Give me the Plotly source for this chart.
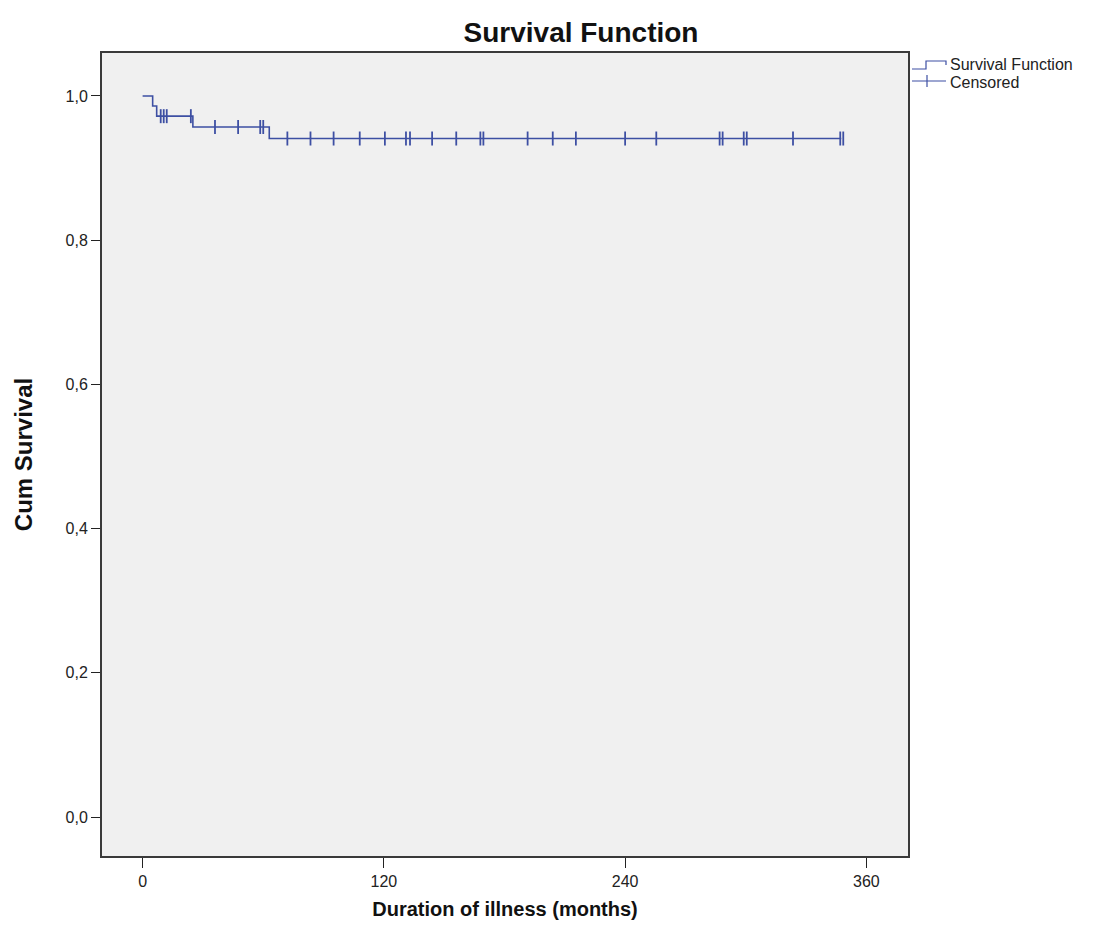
import plotly.graph_objects as go

# Kaplan-Meier step curve (time in months, cumulative survival)
step_times = [0, 5, 7, 25, 63, 347.5]
step_surv = [1.0, 0.986, 0.972, 0.957, 0.941, 0.941]

# Censored observations (time in months) and survival level at that time
censor_times = [9, 10.5, 12, 24, 36, 47.5, 58.5, 60, 72, 83.5, 95, 108, 120.5,
                131, 133, 144, 156, 168, 169.5, 191.5, 204, 215.5, 240, 255.5,
                287, 288.5, 299, 300.5, 323.5, 347, 348.5]
censor_surv = [0.972, 0.972, 0.972, 0.972, 0.957, 0.957, 0.957, 0.957, 0.941, 0.941,
               0.941, 0.941, 0.941, 0.941, 0.941, 0.941, 0.941, 0.941, 0.941, 0.941,
               0.941, 0.941, 0.941, 0.941, 0.941, 0.941, 0.941, 0.941, 0.941, 0.941, 0.941]

x_ticks = [0, 120, 240, 360]
y_ticks = [0.0, 0.2, 0.4, 0.6, 0.8, 1.0]

BLUE = "#3D4FA3"
FONT = "Liberation Sans, Arial, sans-serif"

# plot area in screen pixels (page has an 8px body margin)
PL, PR, PT, PB = 102, 908, 53, 856


def px(x):
    return (x - PL) / (PR - PL)


def py(y):
    return 1 - (y - PT) / (PB - PT)


fig = go.Figure()
fig.add_trace(go.Scatter(
    x=step_times, y=step_surv, mode="lines", line_shape="hv",
    line=dict(color=BLUE, width=1.6), name="Survival Function", showlegend=False,
))
fig.add_trace(go.Scatter(
    x=censor_times, y=censor_surv, mode="markers",
    marker=dict(symbol="line-ns", size=10, line=dict(color=BLUE, width=1.8)),
    name="Censored", showlegend=False,
))

# Manual legend (step icon and cross icon)
fig.add_shape(type="path", xref="paper", yref="paper",
              path=(f"M {px(912)} {py(69)} L {px(926)} {py(69)} L {px(926)} {py(61)} "
                    f"L {px(946)} {py(61)} L {px(946)} {py(65)}"),
              line=dict(color=BLUE, width=1.2))
fig.add_shape(type="line", xref="paper", yref="paper",
              x0=px(912), x1=px(946), y0=py(81), y1=py(81), line=dict(color=BLUE, width=1.2))
fig.add_shape(type="line", xref="paper", yref="paper",
              x0=px(927), x1=px(927), y0=py(75), y1=py(87), line=dict(color=BLUE, width=1.2))
fig.add_annotation(text="Survival Function", xref="paper", yref="paper",
                   x=px(948), y=py(64), xanchor="left", yanchor="middle",
                   showarrow=False, font=dict(family=FONT, size=16, color="#222"))
fig.add_annotation(text="Censored", xref="paper", yref="paper",
                   x=px(948), y=py(82), xanchor="left", yanchor="middle",
                   showarrow=False, font=dict(family=FONT, size=16, color="#222"))

fig.update_layout(
    width=1120, height=945,
    margin=dict(l=PL - 8, r=1120 - (PR - 8), t=PT - 8, b=945 - (PB - 8)),
    paper_bgcolor="white", plot_bgcolor="#F0F0F0",
    separators=",.",
    font=dict(family=FONT, size=17, color="#222"),
    title=dict(text="<b>Survival Function</b>", x=(581 - 8) / 1120, xanchor="center",
               y=1 - (32 - 8) / 945, yanchor="middle", font=dict(family=FONT, size=28, color="#111")),
    showlegend=False,
)
fig.update_xaxes(
    range=[-20.2, 380.7], tickvals=x_ticks, ticktext=[str(v) for v in x_ticks],
    showgrid=False, zeroline=False, showline=True, mirror=True,
    linecolor="#3a3a3a", linewidth=2, ticks="outside", ticklen=10, tickcolor="#222",
    tickfont=dict(size=16),
    title=dict(text="<b>Duration of illness (months)</b>", standoff=13,
               font=dict(family=FONT, size=20, color="#111")),
)
fig.update_yaxes(
    range=[-0.054, 1.0596], tickvals=y_ticks, tickformat=".1f",
    showgrid=False, zeroline=False, showline=True, mirror=True,
    linecolor="#3a3a3a", linewidth=2, ticks="outside", ticklen=9, tickcolor="#222",
    tickfont=dict(size=16),
    title=dict(text="<b>Cum Survival</b>", standoff=26,
               font=dict(family=FONT, size=24, color="#111")),
)

fig.write_html("out.html")
